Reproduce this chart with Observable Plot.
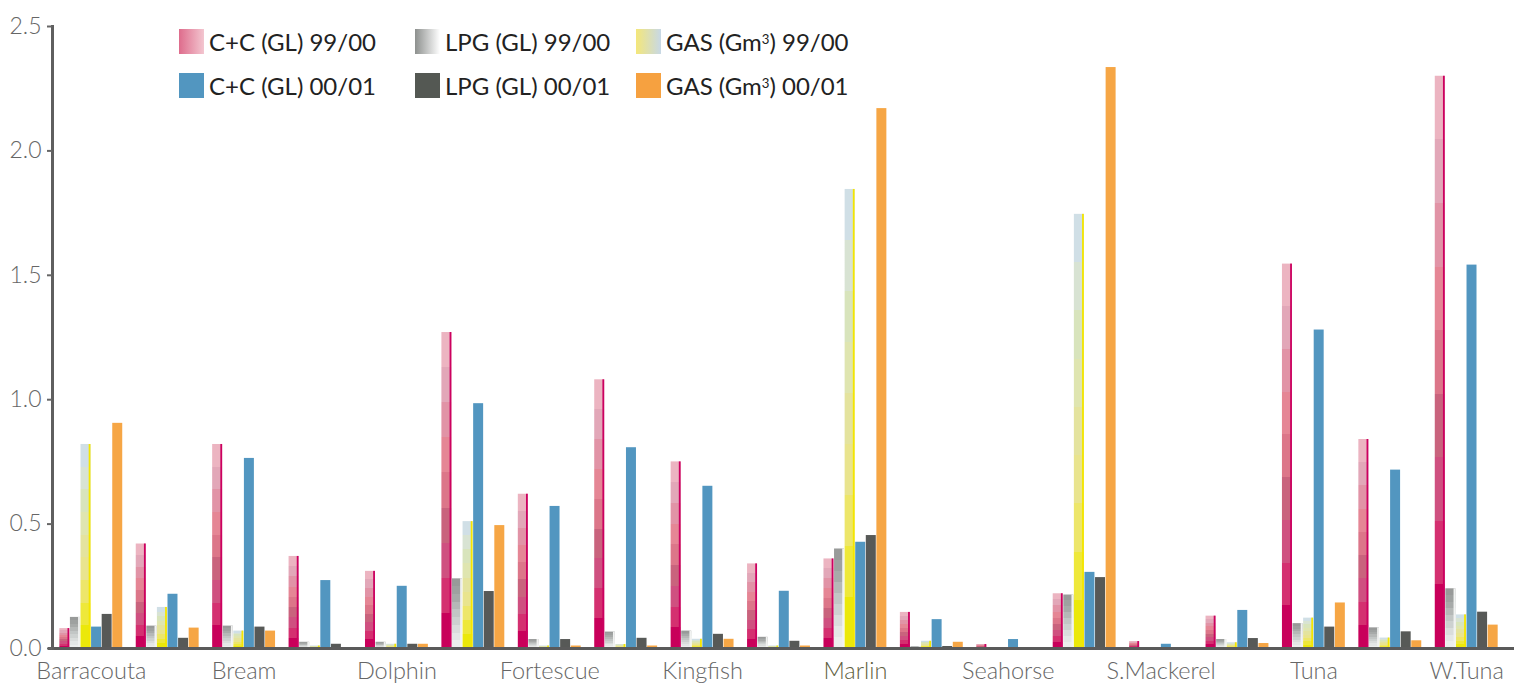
<!DOCTYPE html>
<html><head><meta charset="utf-8">
<script src="https://cdn.jsdelivr.net/npm/d3@7"></script>
<script src="https://cdn.jsdelivr.net/npm/@observablehq/plot@0.6"></script>
<style>
body{margin:0;background:#fff;font-family:Lato, "Noto Sans", sans-serif;}
#wrap{position:relative;width:1514px;height:683px;overflow:hidden;}
.leg{position:absolute;display:flex;align-items:center;font-size:24px;color:#222;white-space:nowrap;height:25px;}
.sw{width:25px;height:25px;margin-right:5px;flex:none;}
.leg sup{font-size:0.55em;vertical-align:0.55em;}
</style></head><body>
<div id="wrap"></div>
<script>
// ---- data ----
const fields = ["Barracouta","Blackback","Bream","Cobia","Dolphin","Flounder","Fortescue","Halibut","Kingfish","Mackerel","Marlin","Perch","Seahorse","Snapper","S.Mackerel","Tarwhine","Tuna","West Kingfish","W.Tuna"];
const labelFields = ["Barracouta","Bream","Dolphin","Fortescue","Kingfish","Marlin","Seahorse","S.Mackerel","Tuna","W.Tuna"];
const seriesNames = ["C+C (GL) 99/00","LPG (GL) 99/00","GAS (Gm3) 99/00","C+C (GL) 00/01","LPG (GL) 00/01","GAS (Gm3) 00/01"];
const ccOld  = [0.08, 0.42, 0.82, 0.37, 0.31, 1.27, 0.62, 1.08, 0.75, 0.34, 0.36, 0.145, 0.016, 0.22, 0.028, 0.13, 1.545, 0.84, 2.30];
const lpgOld = [0.125, 0.09, 0.09, 0.025, 0.025, 0.28, 0.036, 0.066, 0.07, 0.045, 0.40, 0.007, 0, 0.215, 0, 0.036, 0.10, 0.083, 0.24];
const gasOld = [0.82, 0.165, 0.07, 0.01, 0.017, 0.51, 0.01, 0.016, 0.037, 0.01, 1.845, 0.029, 0, 1.745, 0, 0.023, 0.122, 0.042, 0.135];
const ccNew  = [0.086, 0.218, 0.764, 0.273, 0.25, 0.984, 0.571, 0.807, 0.652, 0.23, 0.427, 0.116, 0.036, 0.306, 0.017, 0.153, 1.28, 0.717, 1.541];
const lpgNew = [0.137, 0.041, 0.086, 0.017, 0.017, 0.229, 0.036, 0.041, 0.057, 0.029, 0.454, 0.008, 0, 0.285, 0, 0.04, 0.086, 0.067, 0.146];
const gasNew = [0.905, 0.082, 0.07, 0, 0.017, 0.494, 0.01, 0.01, 0.037, 0.01, 2.17, 0.025, 0, 2.335, 0, 0.02, 0.183, 0.031, 0.094];
const yTicks = [0, 0.5, 1.0, 1.5, 2.0, 2.5];

// ---- styles ----
const pinkBands = ["#C8005A","#D43070","#CF5080","#C9637D","#DC7689","#E58695","#E193A6","#E2A7B8","#ECB4C1"];
const grayBands = ["#ECEEED","#E4E7E6","#DADDDC","#CDD1D0","#C2C6C5","#B5B8B7","#A7AAA9","#9EA1A0","#989A99"];
const gasBands  = ["#EBE80A","#EEE83A","#EDE66A","#E9E48E","#E4E39E","#DFE5B0","#D8E4BC","#D8E3D3","#D0DFE6"];

const wrap = document.getElementById("wrap");
// gradient defs
const defs = d3.create("svg").attr("width",0).attr("height",0)
  .style("position","absolute").style("left",0).style("top",0);
const dd = defs.append("defs");
function addGrad(id, bands){
  const g = dd.append("linearGradient").attr("id",id)
    .attr("x1",0).attr("y1",1).attr("x2",0).attr("y2",0);
  const n = bands.length;
  bands.forEach((c,k)=>{
    g.append("stop").attr("offset",k/n).attr("stop-color",c);
    g.append("stop").attr("offset",(k+1)/n).attr("stop-color",c);
  });
}
addGrad("gPink", pinkBands);
addGrad("gGray", grayBands);
addGrad("gGas", gasBands);
wrap.appendChild(defs.node());

const W=1514, H=683, ML=52, MR=9, MT=26, MB=35;
const PI=0.169, PO=0.092;
const step=(W-ML-MR)/(fields.length-PI+2*PO);
const bw=step*(1-PI);
const bar=bw/6;

const seriesDefs = [
  {values: ccOld,  fill:"url(#gPink)", edge:"#CC0060"},
  {values: lpgOld, fill:"url(#gGray)", edge:"#F1F2F1"},
  {values: gasOld, fill:"url(#gGas)",  edge:"#F4E600"},
  {values: ccNew,  fill:"#5296C0"},
  {values: lpgNew, fill:"#575957"},
  {values: gasNew, fill:"#F6A645"}
];

const barMarks = seriesDefs.flatMap((s,i)=>{
  const m = [Plot.barY(fields, {x: d=>d, y: s.values, fill: s.fill,
    insetLeft: i*bar+0.3, insetRight: (5-i)*bar+0.3})];
  if (s.edge) m.push(Plot.barY(fields, {x: d=>d, y: s.values, fill: s.edge,
    insetLeft: (i+1)*bar-2.1, insetRight: (5-i)*bar+0.3}));
  return m;
});

const chart = Plot.plot({
  width: W, height: H,
  marginLeft: ML, marginRight: MR, marginTop: MT, marginBottom: MB,
  style: {fontFamily: "Lato, 'Noto Sans', sans-serif", background: "#fff"},
  x: {domain: fields, paddingInner: PI, paddingOuter: PO, round: false, axis: null},
  y: {domain: [0, 2.5], axis: null},
  marks: [
    ...barMarks,
    Plot.ruleY([0], {stroke: "#5a5a5a", strokeWidth: 3, insetLeft: -4, insetRight: -9}),
    Plot.frame({anchor: "left", stroke: "#5f5f5f", strokeWidth: 3}),
    Plot.axisY({ticks: yTicks, tickFormat: d=>d.toFixed(1), tickSize: 5, tickPadding: 6,
      fontSize: 23, fontWeight: 300, color: "#666", strokeWidth: 2}),
    Plot.axisX({ticks: labelFields, tickSize: 0, tickPadding: 14, fontSize: 23.5, fontWeight: 300,
      fill: d => d === "Marlin" ? "#5F5F3F" : "#666666"})
  ]
});
chart.style.position = "absolute";
chart.style.left = "0px";
chart.style.top = "0px";
wrap.appendChild(chart);

// ---- legend ----
const legendItems = [
  {name: seriesNames[0], bg: "linear-gradient(to right,#DE6C8C,#F3C6D0)", left: 179, top: 29},
  {name: seriesNames[3], bg: "#5296C0", left: 179, top: 73},
  {name: seriesNames[1], bg: "linear-gradient(to right,#8D908E,#FFFFFF)", left: 415, top: 29},
  {name: seriesNames[4], bg: "#545853", left: 415, top: 73},
  {name: seriesNames[2], bg: "linear-gradient(to right,#F4E77A,#C7D8E6)", left: 636, top: 29},
  {name: seriesNames[5], bg: "#F6A140", left: 636, top: 73}
];
legendItems.forEach(it=>{
  const d = document.createElement("div");
  d.className = "leg";
  d.style.left = it.left + "px";
  d.style.top = it.top + "px";
  const sw = document.createElement("div");
  sw.className = "sw";
  sw.style.background = it.bg;
  const t = document.createElement("span");
  t.innerHTML = it.name.replace("Gm3", "Gm<sup>3</sup>");
  d.appendChild(sw); d.appendChild(t);
  wrap.appendChild(d);
});
</script>
</body></html>
